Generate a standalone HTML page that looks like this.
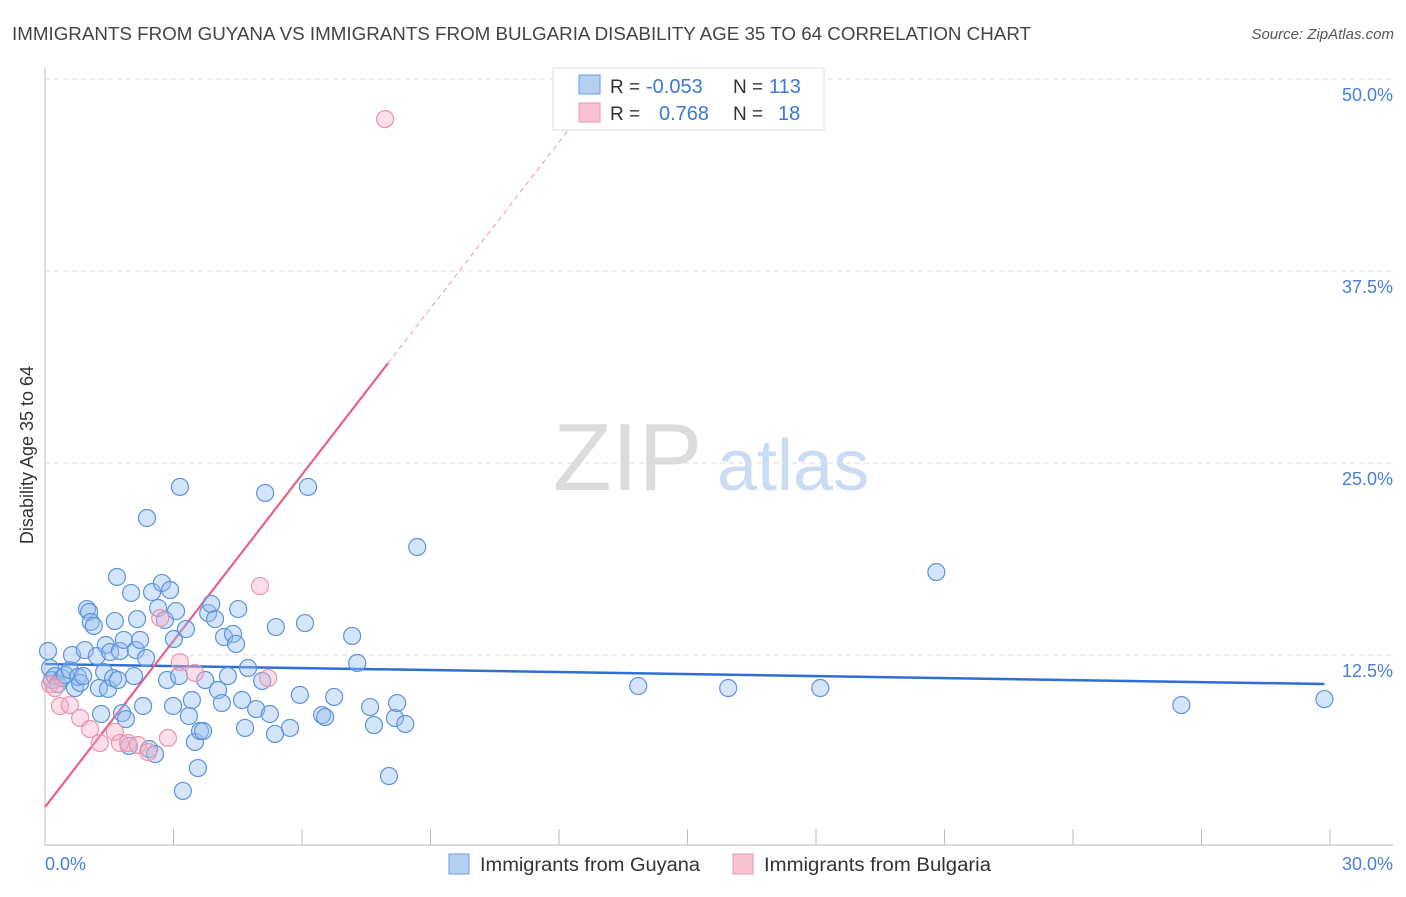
<!DOCTYPE html>
<html><head><meta charset="utf-8"><style>
body{margin:0;background:#fff;font-family:"Liberation Sans",sans-serif;}
svg text{font-family:"Liberation Sans",sans-serif;}
</style></head><body>
<svg id="chart" width="1406" height="892" xmlns="http://www.w3.org/2000/svg">
<text x="12" y="40" font-size="18" fill="#444" textLength="1019" lengthAdjust="spacingAndGlyphs">IMMIGRANTS FROM GUYANA VS IMMIGRANTS FROM BULGARIA DISABILITY AGE 35 TO 64 CORRELATION CHART</text>
<text x="1394" y="39" font-size="15" fill="#555" font-style="italic" text-anchor="end">Source: ZipAtlas.com</text>
<g>
<text x="553" y="490" font-size="96" fill="#dcdcdc" font-family="Liberation Serif,serif">ZIP</text>
<text x="717" y="490" font-size="72" fill="#c9dcf3">atlas</text>
</g>
<g id="grid"></g>
<g id="axes"></g>
<g id="lines"></g>
<g id="pts"></g>
<text transform="translate(33,455) rotate(-90)" font-size="18" fill="#333" text-anchor="middle">Disability Age 35 to 64</text>
<g>
<rect x="553" y="68" width="271" height="62" fill="#fff" stroke="#ddd"/>
<rect x="579" y="75" width="21" height="19" fill="#b3cff2" stroke="#6b9de0"/>
<rect x="579" y="103" width="21" height="19" fill="#f9c3d3" stroke="#ec93ad"/>
<text x="610" y="93" font-size="19" fill="#333">R = </text>
<text x="646" y="93" font-size="20" fill="#3b78d8">-0.053</text>
<text x="733" y="93" font-size="19" fill="#333">N = </text>
<text x="769" y="93" font-size="20" fill="#3b78d8">113</text>
<text x="610" y="120" font-size="19" fill="#333">R = </text>
<text x="659" y="120" font-size="20" fill="#3b78d8">0.768</text>
<text x="733" y="120" font-size="19" fill="#333">N = </text>
<text x="778" y="120" font-size="20" fill="#3b78d8">18</text>
</g>
<g>
<rect x="449" y="854" width="20" height="20" fill="#b3cff2" stroke="#6b9de0"/>
<text x="480" y="871" font-size="19" fill="#333" textLength="220" lengthAdjust="spacingAndGlyphs">Immigrants from Guyana</text>
<rect x="733" y="854" width="20" height="20" fill="#f9c3d3" stroke="#ec93ad"/>
<text x="764" y="871" font-size="19" fill="#333" textLength="227" lengthAdjust="spacingAndGlyphs">Immigrants from Bulgaria</text>
</g>
</svg>
<script>
const yTicks=[12.5,25,37.5,50];
const yTickLabels=["12.5%","25.0%","37.5%","50.0%"];
const xTicks=[0,3,6,9,12,15,18,21,24,27,30];
const guyanaX=[0.07,0.12,0.16,0.23,0.30,0.40,0.47,0.58,0.63,0.70,0.77,0.82,0.89,0.93,0.98,1.03,1.07,1.14,1.21,1.26,1.31,1.38,1.42,1.47,1.52,1.59,1.63,1.68,1.70,1.75,1.80,1.84,1.89,1.96,2.01,2.08,2.12,2.15,2.22,2.29,2.36,2.38,2.43,2.50,2.57,2.64,2.73,2.80,2.85,2.92,2.99,3.01,3.06,3.13,3.15,3.22,3.29,3.36,3.43,3.50,3.57,3.62,3.69,3.74,3.81,3.88,3.97,4.04,4.13,4.18,4.27,4.39,4.46,4.51,4.60,4.67,4.74,4.93,5.07,5.14,5.25,5.37,5.39,5.72,5.95,6.07,6.14,6.47,6.54,6.75,7.17,7.29,7.59,7.68,8.03,8.17,8.22,8.41,8.69,13.85,15.95,18.10,20.81,26.53,29.87];
const guyanaY=[12.76,11.65,10.87,11.13,10.61,11.00,11.20,11.52,12.50,10.35,11.07,10.68,11.13,12.82,15.49,15.30,14.65,14.39,12.43,10.35,8.66,11.39,13.15,10.29,12.69,11.00,14.71,17.58,10.87,12.76,8.72,13.48,8.33,6.58,16.54,11.13,12.82,14.84,13.48,9.18,12.30,21.42,6.38,16.60,6.05,15.56,17.19,14.78,10.87,16.73,9.18,13.54,15.36,11.13,23.44,3.65,14.19,8.53,9.57,6.84,5.14,7.55,7.55,10.87,15.23,15.82,14.84,10.22,9.37,13.67,11.13,13.87,13.22,15.49,9.57,7.75,11.65,8.98,10.81,23.05,8.66,7.36,14.32,7.75,9.90,14.58,23.44,8.59,8.46,9.77,13.74,11.98,9.11,7.94,4.62,8.40,9.37,8.01,19.53,10.48,10.35,10.35,17.90,9.24,9.63];
const bulgariaX=[0.12,0.23,0.35,0.58,0.82,1.05,1.28,1.63,1.75,1.94,2.17,2.41,2.69,2.87,3.15,3.50,5.02,5.21,7.94];
const bulgariaY=[10.61,10.35,9.18,9.24,8.40,7.68,6.77,7.49,6.77,6.77,6.64,6.18,14.91,7.10,12.04,11.33,16.99,11.00,47.39];
const guyanaTrend=[[0,11.91],[29.87,10.61]];
const bulgariaTrendSolid=[[0,2.6],[8.01,31.5]];
const bulgariaTrendDash=[[8.01,31.5],[12.5,47.7]];

const X=v=>45+v/30*1285;
const Y=v=>847-v/12.5*192;
const NS="http://www.w3.org/2000/svg";
function mk(tag,parent,attrs){const e=document.createElementNS(NS,tag);for(const k in attrs)e.setAttribute(k,attrs[k]);document.getElementById(parent).appendChild(e);return e;}
yTicks.forEach((t,i)=>{
 const l=mk('line','grid',{x1:45,x2:1393,y1:Y(t),y2:Y(t),stroke:'#ddd','stroke-dasharray':'5,4'});
 
 
 const tx=mk('text','grid',{x:1393,y:Y(t)+22,'font-size':18,fill:'#4a7fd6','text-anchor':'end'});
 tx.textContent=yTickLabels[i];
 
 
});
mk('line','axes',{x1:45,x2:45,y1:68,y2:845,stroke:'#bbb'});
mk('line','axes',{x1:45,x2:1393,y1:845,y2:845,stroke:'#bbb'});
xTicks.forEach(t=>{
 const l=mk('line','axes',{x1:X(t),x2:X(t),y1:829,y2:845,stroke:'#bbb'});
 
 
});
let a=mk('text','axes',{x:45,y:870,'font-size':18,fill:'#4a7fd6'});a.textContent='0.0%';


a=mk('text','axes',{x:1393,y:870,'font-size':18,fill:'#4a7fd6','text-anchor':'end'});a.textContent='30.0%';


guyanaX.forEach((v,i)=>{
 const c=mk('circle','pts',{cx:X(v),cy:Y(guyanaY[i]),r:8.5,fill:'rgba(150,190,240,0.4)',stroke:'#5b93dd','stroke-width':1.2});
 
 
});
bulgariaX.forEach((v,i)=>{
 const c=mk('circle','pts',{cx:X(v),cy:Y(bulgariaY[i]),r:8.5,fill:'rgba(247,175,198,0.4)',stroke:'#ec93ad','stroke-width':1.2});
 
 
});
let t=mk('line','lines',{x1:X(guyanaTrend[0][0]),y1:Y(guyanaTrend[0][1]),x2:X(guyanaTrend[1][0]),y2:Y(guyanaTrend[1][1]),stroke:'#2f6fd4','stroke-width':2.5});


t=mk('line','lines',{x1:X(bulgariaTrendSolid[0][0]),y1:Y(bulgariaTrendSolid[0][1]),x2:X(bulgariaTrendSolid[1][0]),y2:Y(bulgariaTrendSolid[1][1]),stroke:'#e8608a','stroke-width':2.2});


t=mk('line','lines',{x1:X(bulgariaTrendDash[0][0]),y1:Y(bulgariaTrendDash[0][1]),x2:X(bulgariaTrendDash[1][0]),y2:Y(bulgariaTrendDash[1][1]),stroke:'#eeaabd','stroke-width':1.2,'stroke-dasharray':'5,4'});


</script>
</body></html>
